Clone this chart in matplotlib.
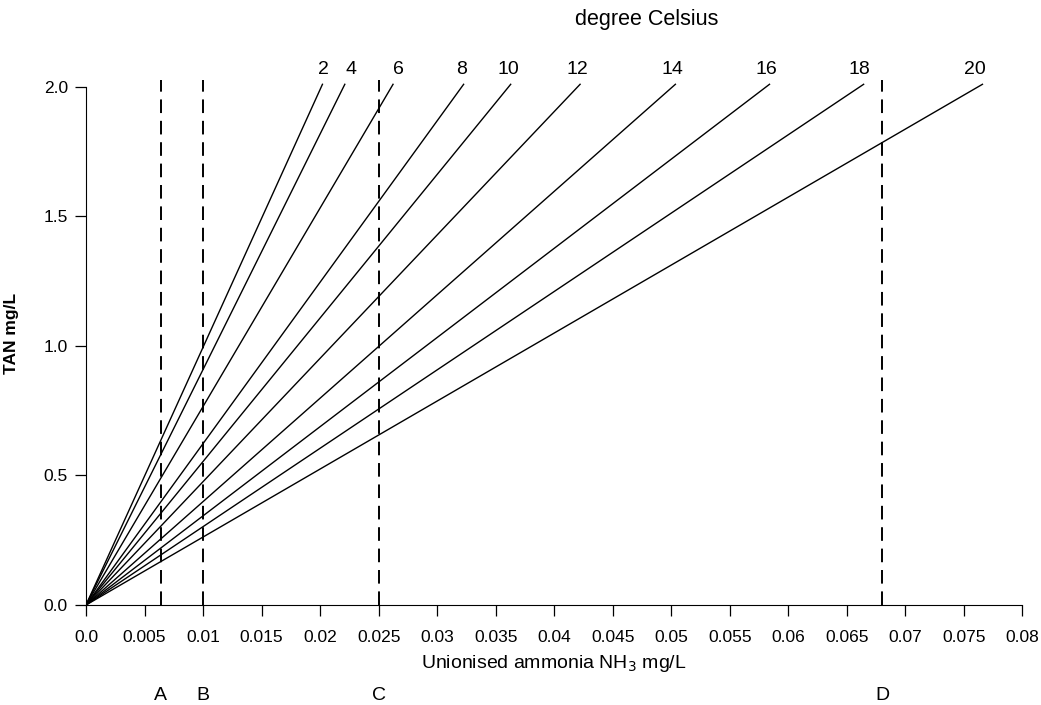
import matplotlib
matplotlib.use("Agg")
import matplotlib.pyplot as plt
import matplotlib.transforms as mtransforms

plt.rcParams['font.family'] = ['Liberation Sans', 'DejaVu Sans']
plt.rcParams['font.size'] = 12.5

# temperature (degree Celsius) and NH3 at TAN = 2.0 mg/L
temps = [2, 4, 6, 8, 10, 12, 14, 16, 18, 20]
nh3_at_tan2 = [0.0201, 0.0220, 0.0261, 0.0321, 0.0361, 0.0420, 0.0501, 0.0581, 0.0661, 0.0762]
tan_max = 2.01
# small horizontal nudges so labels don't sit on the dashed line
label_nudge = [0.0002, 0.0006, 0.0006, 0.0, 0.0, 0.0, 0.0, 0.0, 0.0, -0.0003]

# threshold lines
limit_names = ['A', 'B', 'C', 'D']
limit_x = [0.0064, 0.010, 0.025, 0.068]

xticks = [i * 0.005 for i in range(17)]
xticklabels = ['0.0'] + ['%g' % round(v, 3) for v in xticks[1:]]
yticks = [0.0, 0.5, 1.0, 1.5, 2.0]
yticklabels = ['0.0', '0.5', '1.0', '1.5', '2.0']

fig = plt.figure(figsize=(10.41, 7.05), dpi=100)
ax = fig.add_axes([0.0826, 0.1418, 0.8996, 0.7717])

for t, x, dx in zip(temps, nh3_at_tan2, label_nudge):
    ax.plot([0, x * tan_max / 2.0], [0, tan_max], color='black', lw=1.0)
    ax.text(x + dx, 2.035, str(t), ha='center', va='bottom', fontsize=14)

for x in limit_x:
    ax.plot([x, x], [0, 2.025], color='black', lw=1.4, dashes=(7, 4))

trans = mtransforms.blended_transform_factory(ax.transData, fig.transFigure)
for n, x in zip(limit_names, limit_x):
    ax.text(x, 1 - 695 / 705, n, transform=trans, ha='center', va='center', fontsize=14)

fig.text(647 / 1041, 1 - 20 / 705, 'degree Celsius', ha='center', va='center', fontsize=15.5)

ax.set_xlim(0, 0.08)
ax.set_ylim(0, 2.1)
ax.spines['top'].set_visible(False)
ax.spines['right'].set_visible(False)
ax.spines['left'].set_bounds(0, 2.0)
ax.spines['bottom'].set_bounds(0, 0.08)
ax.set_xticks(xticks)
ax.set_xticklabels(xticklabels)
ax.set_yticks(yticks)
ax.set_yticklabels(yticklabels)
ax.tick_params(direction='out', length=8, width=0.9)
ax.tick_params(axis='x', pad=10)
ax.tick_params(axis='y', pad=5)
ax.set_xlabel('Unionised ammonia NH$_3$ mg/L', fontsize=14, labelpad=6)
ax.set_ylabel('TAN mg/L', fontsize=12.5, fontweight='bold', labelpad=18)

fig.savefig('out.png', dpi=100)
